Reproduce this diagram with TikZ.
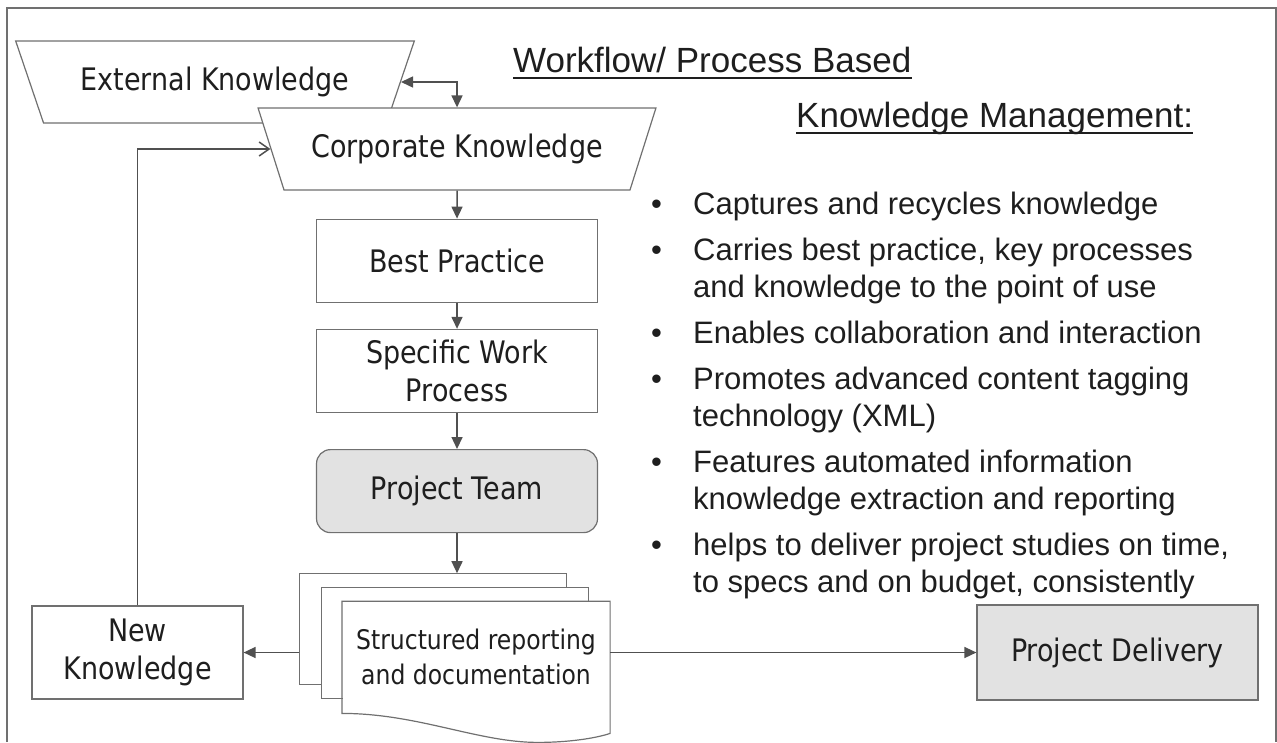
\documentclass[tikz,border=0pt]{standalone}
\usepackage{fontspec}
\setmainfont{Liberation Sans}
\newfontfamily\boxfont[FakeStretch=0.87]{DejaVu Sans}
\usetikzlibrary{arrows.meta,positioning,shapes.geometric}

\definecolor{linegray}{HTML}{505050}
\definecolor{boxgray}{HTML}{707070}
\definecolor{txtgray}{HTML}{1E1E1E}
\definecolor{fillgray}{HTML}{E2E2E2}

\begin{document}
\begin{tikzpicture}[x=1pt,y=1pt,>={Triangle[length=12pt,width=11pt]},
    box/.style={draw=boxgray,line width=1.2pt,fill=white,text=txtgray,minimum width=281pt,minimum height=83pt,
        font=\boxfont\fontsize{31}{38}\selectfont,align=center},
    trap/.style={box,trapezium,trapezium stretches=true,shape border rotate=180,
        trapezium left angle=58.6,trapezium right angle=58.6,minimum width=400pt,minimum height=82pt},
    page/.style={box,minimum width=267pt,minimum height=111pt},
    flow/.style={draw=linegray,line width=1.5pt,->},
    heading/.style={inner sep=0pt,anchor=base west,text=txtgray,font=\fontsize{35}{42}\selectfont},
    uline/.style={draw=txtgray,line width=1.8pt}]
    \useasboundingbox (0,0) rectangle (1277,-742);
    \draw[boxgray,line width=1.5pt] (7,-742) -- (7,-8) -- (1276,-8) -- (1276,-742);

    \node[trap] (ext) at (215,-82) {External Knowledge};
    \node[trap] (corp) at (457,-149) {Corporate Knowledge};
    \node[box,below=28pt of corp] (best) {Best Practice};
    \node[box,below=26pt of best] (spec) {Specific Work\\Process};
    \node[box,below=36pt of spec,rounded corners=14pt,fill=fillgray] (team) {Project Team};

    \node[page,below=40pt of team,xshift=-24pt] (doc1) {};
    \node[page] (doc2) at ([shift={(22,-14)}]doc1) {};
    \node[page,draw=none,font=\boxfont\fontsize{27}{35}\selectfont] (doc) at ([shift={(21,-14)}]doc2)
        {Structured reporting\\and documentation};
    \draw[draw=boxgray,line width=1.2pt] (doc.south west) .. controls +(76,0) and +(-60,0) .. ([shift={(196,-29)}]doc.south west)
        .. controls +(30,0) and +(-15,-5) .. ([yshift=-20pt]doc.south east) -- (doc.north east) -- (doc.north west) -- cycle;

    \node[box,minimum width=211pt,minimum height=93pt] (newk) at (137.5,-652.5) {New\\Knowledge};
    \node[box,minimum height=95pt,fill=fillgray] (deliv) at (1117.5,-652.5) {Project Delivery};

    \draw[flow,<->] (ext.east) -| (corp.north);
    \draw[flow] (corp) -- (best);
    \draw[flow] (best) -- (spec);
    \draw[flow] (spec) -- (team);
    \draw[flow] (team) -- (team.south |- doc1.north);
    \draw[flow] (newk.east -| doc1.west) -- (newk);
    \draw[flow] (deliv.west -| doc.east) -- (deliv);
    \draw[draw=linegray,line width=1.5pt,-{Straight Barb[length=10pt,width=14pt]}] (newk) |- (corp.west);

    \node[heading] (wfhead) at (513,-72) {Workflow/ Process Based};
    \draw[uline] ([yshift=-6pt]wfhead.base west) -- ([yshift=-6pt]wfhead.base east);
    \node[heading] (kmhead) at (796,-127) {Knowledge Management:};
    \draw[uline] ([yshift=-6pt]kmhead.base west) -- ([yshift=-6pt]kmhead.base east);

    \node[inner sep=0pt,anchor=north west,text=txtgray,font=\fontsize{31}{37.3}\selectfont] (kmlist) at (651,-188)
        {\begin{tabular}{@{}p{42pt}@{}l@{}}
        \textbullet & Captures and recycles knowledge\\[8.5pt]
        \textbullet & Carries best practice, key processes\\
                    & and knowledge to the point of use\\[8.5pt]
        \textbullet & Enables collaboration and interaction\\[8.5pt]
        \textbullet & Promotes advanced content tagging\\
                    & technology (XML)\\[8.5pt]
        \textbullet & Features automated information\\
                    & knowledge extraction and reporting\\[8.5pt]
        \textbullet & helps to deliver project studies on time,\\
                    & to specs and on budget, consistently
        \end{tabular}};
\end{tikzpicture}
\end{document}
